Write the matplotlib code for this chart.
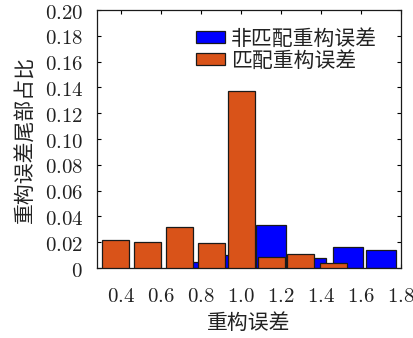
import matplotlib
matplotlib.use('Agg')
import matplotlib.pyplot as plt

plt.rcParams['font.family'] = ['Noto Sans CJK SC', 'DejaVu Sans']
plt.rcParams['font.weight'] = 'light'
plt.rcParams['mathtext.fontset'] = 'cm'

# 误差区间中心与对应的尾部占比
unmatched_x = [0.77, 0.925, 1.15, 1.35, 1.533, 1.6975]
unmatched_y = [0.005, 0.010, 0.033, 0.008, 0.0163, 0.0142]

matched_x = [0.371, 0.531, 0.690, 0.850, 1.000, 1.150, 1.2975, 1.460]
matched_y = [0.022, 0.020, 0.032, 0.019, 0.137, 0.0085, 0.0106, 0.004]

x_ticks = [0.4, 0.6, 0.8, 1.0, 1.2, 1.4, 1.6, 1.8]
x_tick_labels = ['0.4', '0.6', '0.8', '1.0', '1.2', '1.4', '1.6', '1.8']
y_ticks = [0, 0.02, 0.04, 0.06, 0.08, 0.10, 0.12, 0.14, 0.16, 0.18, 0.20]
y_tick_labels = ['0', '0.02', '0.04', '0.06', '0.08', '0.10',
                 '0.12', '0.14', '0.16', '0.18', '0.20']

blue = '#0000FF'
orange = '#D95319'
edge = '#1a1a1a'
text_color = '#222222'
fs = 15

fig = plt.figure(figsize=(4.14, 3.38), dpi=100)
ax = fig.add_axes([0.2343, 0.2071, 0.7343, 0.7633])

ax.bar(unmatched_x, unmatched_y, width=0.15, color=blue,
       edgecolor=edge, linewidth=0.9, label='非匹配重构误差', zorder=2)
ax.bar(matched_x, matched_y, width=0.135, color=orange,
       edgecolor=edge, linewidth=0.9, label='匹配重构误差', zorder=3)

ax.set_xlim(0.28, 1.8)
ax.set_ylim(0, 0.2)

ax.set_xticks(x_ticks)
ax.set_xticklabels(['$' + t + '$' for t in x_tick_labels], fontsize=fs,
                   color=text_color)
ax.set_yticks(y_ticks)
ax.set_yticklabels(['$' + t + '$' for t in y_tick_labels], fontsize=fs,
                   color=text_color)
ax.tick_params(direction='in', length=3, width=0.8, top=True, right=True,
               pad=10)
ax.tick_params(axis='x', pad=12)

for spine in ax.spines.values():
    spine.set_linewidth(0.9)
    spine.set_color(edge)

ax.set_xlabel('重构误差', fontsize=fs, labelpad=4, color=text_color)
ax.set_ylabel('重构误差尾部占比', fontsize=fs, labelpad=6, color=text_color)

leg = ax.legend(loc='upper left', bbox_to_anchor=(0.325, 0.932),
                frameon=False, fontsize=fs, handlelength=1.4,
                handleheight=0.5, handletextpad=0.3, labelspacing=0.0,
                borderpad=0, borderaxespad=0)
for t in leg.get_texts():
    t.set_color(text_color)

fig.savefig('out.png', dpi=100)
